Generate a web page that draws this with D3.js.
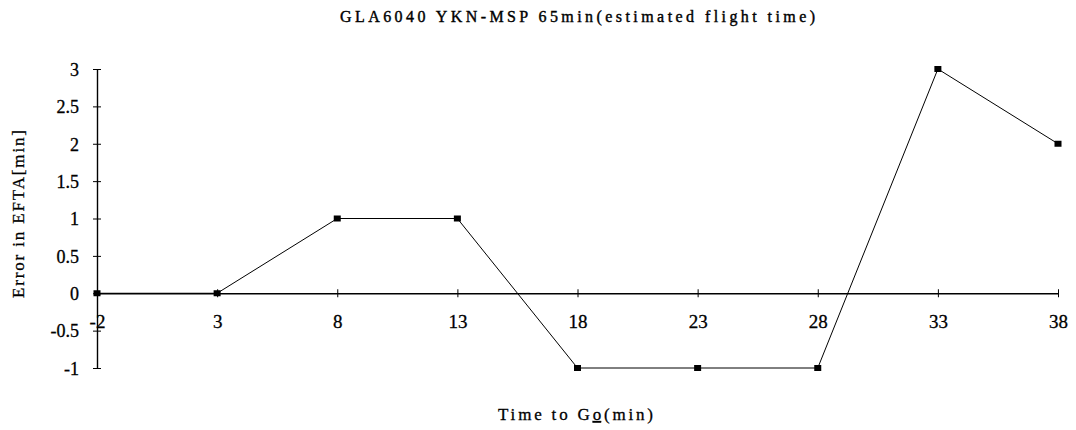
<!DOCTYPE html>
<html><head><meta charset="utf-8">
<script src="https://cdn.jsdelivr.net/npm/d3@7"></script>
<style>body{margin:0;background:#fff}svg{display:block}text{font-family:"Liberation Serif","Times New Roman",serif;fill:#000}</style>
</head><body>
<svg id="c" width="1076" height="430"></svg>
<script>
const categories = [-2, 3, 8, 13, 18, 23, 28, 33, 38];
const errorValues = [0, 0, 1, 1, -1, -1, -1, 3, 2];
const yTicks = [3, 2.5, 2, 1.5, 1, 0.5, 0, -0.5, -1];
const titleText = "GLA6040 YKN-MSP 65min(estimated flight time)";

const svg = d3.select("#c");
const x = d3.scaleLinear().domain([-2, 38]).range([97, 1058]);
const y = d3.scaleLinear().domain([-1, 3]).range([368, 69]);
const serif = '"Liberation Serif","Times New Roman",serif';

// title
svg.append("text").attr("x", 340).attr("y", 22).attr("font-size", 16)
  .attr("stroke", "#000").attr("stroke-width", 0.4)
  .attr("textLength", 475).attr("lengthAdjust", "spacing").text(titleText);

// y axis
const yAxis = d3.axisLeft(y).tickValues(yTicks).tickSize(0).tickPadding(18)
  .tickFormat(d => String(d));
const gy = svg.append("g").attr("transform", "translate(97,0)").call(yAxis);
gy.attr("font-family", serif).attr("font-size", 18);
gy.select(".domain").attr("stroke", "#000").attr("stroke-width", 1.4);
gy.selectAll(".tick text").attr("dy", "0.35em").attr("stroke", "#000").attr("stroke-width", 0.3);
gy.selectAll(".tick").append("line").attr("x1", -4).attr("x2", 4).attr("stroke", "#000");

// x axis at y=0
const xAxis = d3.axisBottom(x).tickValues(categories).tickSize(0).tickPadding(0).tickFormat(d => String(d));
const gx = svg.append("g").attr("transform", `translate(0,${y(0)})`).call(xAxis);
gx.attr("font-family", serif).attr("font-size", 19);
gx.select(".domain").attr("stroke", "#000").attr("stroke-width", 1.4);
gx.selectAll(".tick text").attr("y", 35).attr("dy", 0).attr("stroke", "#000").attr("stroke-width", 0.3);
gx.selectAll(".tick").append("line").attr("y1", -4).attr("y2", 4).attr("stroke", "#000");

// line
const line = d3.line().x((d, i) => x(categories[i])).y(d => y(d));
svg.append("path").datum(errorValues).attr("d", line).attr("fill", "none")
  .attr("stroke", "#000").attr("stroke-width", 1);

// markers
svg.selectAll("rect.m").data(errorValues).join("rect").attr("class", "m")
  .attr("x", (d, i) => x(categories[i]) - 3.5).attr("y", d => y(d) - 3)
  .attr("width", 7).attr("height", 6).attr("fill", "#000");

// axis titles
svg.append("text").attr("transform", "translate(24,214) rotate(-90)").attr("text-anchor", "middle")
  .attr("font-size", 17).attr("stroke", "#000").attr("stroke-width", 0.3)
  .attr("textLength", 168).attr("lengthAdjust", "spacing").text("Error in EFTA[min]");
const xt = svg.append("text").attr("x", 498).attr("y", 420)
  .attr("font-size", 17).attr("stroke", "#000").attr("stroke-width", 0.3)
  .attr("textLength", 155).attr("lengthAdjust", "spacing");
xt.append("tspan").text("Time to G");
xt.append("tspan").attr("text-decoration", "underline").text("o");
xt.append("tspan").text("(min)");
</script>
</body></html>
